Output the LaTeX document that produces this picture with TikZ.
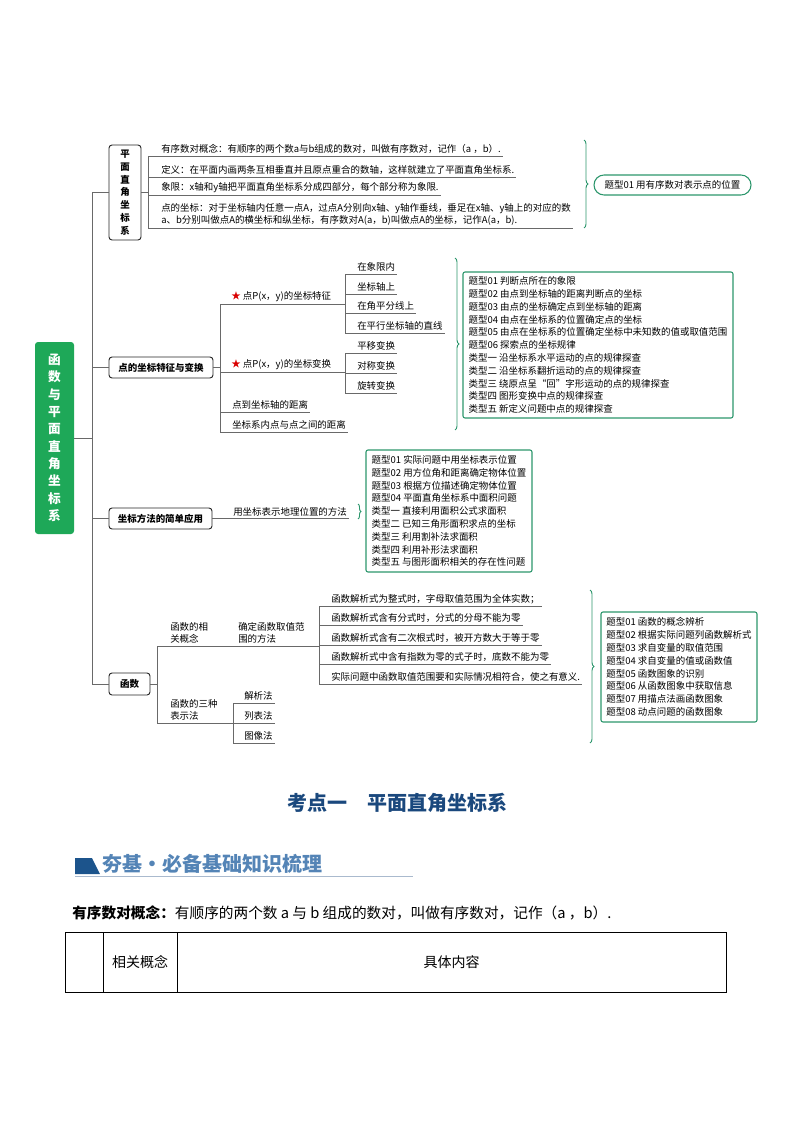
\documentclass[tikz,border=0pt]{standalone}
\usepackage{fontspec}
\setmainfont{Noto Sans CJK SC}
\usetikzlibrary{decorations.pathreplacing, calc}
\newlength\px \setlength\px{0.75pt}
\definecolor{rootgreen}{RGB}{30,168,88}
\definecolor{tealgreen}{RGB}{44,150,108}
\definecolor{linegray}{RGB}{105,105,105}
\definecolor{titleblue}{RGB}{26,72,125}
\definecolor{bannerblue}{RGB}{28,84,140}
\definecolor{bannertext}{RGB}{84,132,182}
\definecolor{bannerline}{RGB}{170,186,206}
\newcommand\mapfont{\fontsize{7.1pt}{9.6pt}\selectfont}
\tikzset{
    root/.style={fill=rootgreen, rounded corners=3\px, text=white, align=center, inner sep=0pt, font=\fontsize{9.5pt}{13pt}\selectfont\bfseries},
    branch/.style={draw=black!85, line width=0.7pt, rounded corners=3\px, fill=white, align=center, inner sep=0pt, font=\mapfont\bfseries},
    leaf/.style={anchor=south west, inner xsep=2\px, inner ysep=2\px, align=left, font=\mapfont},
    link/.style={draw=linegray, line width=0.6pt},
    result/.style={draw=tealgreen, line width=0.8pt, rounded corners=2\px, align=left, inner sep=2\px, font=\mapfont},
    pill/.style={draw=tealgreen, line width=0.8pt, rounded corners=10\px, inner sep=0pt, font=\mapfont},
    brace/.style={draw=tealgreen, line width=0.7pt, decorate, decoration={brace, amplitude=4\px}}
}

\begin{document}
\begin{tikzpicture}[x=0.75pt, y=-0.75pt]
    \useasboundingbox (0,0) rectangle (794,1123);
    \coordinate (trunk) at (92,0);

    % root and main branches
    \node [root, minimum width=39\px, minimum height=192\px] (root) at (54.5,438) {函\\数\\与\\平\\面\\直\\角\\坐\\标\\系};
    \node [branch, minimum width=32\px, minimum height=95\px] (plane) at (125,192.5) {平\\面\\直\\角\\坐\\标\\系};
    \node [branch, minimum width=104\px, minimum height=21\px] (pointbr) at (161,367.5) {点的坐标特征与变换};
    \node [branch, minimum width=103\px, minimum height=21\px] (coordbr) at (160.5,518.5) {坐标方法的简单应用};
    \node [branch, minimum width=41\px, minimum height=22\px] (funcbr) at (129.5,684) {函数};

    \draw [link] (plane.west -| trunk) -- (funcbr.west -| trunk);
    \draw [link] (root.east) -- (root.east -| trunk);
    \foreach \b in {plane, pointbr, coordbr, funcbr}
        \draw [link] (\b.west -| trunk) -- (\b.west);

    % 平面直角坐标系
    \coordinate (va) at (148,0);
    \node [leaf] (a1) at (159,156) {有序数对概念：有顺序的两个数a与b组成的数对，叫做有序数对，记作（a ，b）.};
    \node [leaf] (a2) at (159,177) {定义：在平面内画两条互相垂直并且原点重合的数轴，这样就建立了平面直角坐标系.};
    \node [leaf] (a3) at (159,195) {象限：x轴和y轴把平面直角坐标系分成四部分，每个部分称为象限.};
    \node [leaf] (a4) at (159,228) {点的坐标：对于坐标轴内任意一点A，过点A分别向x轴、y轴作垂线，垂足在x轴、y轴上的对应的数\\a、b分别叫做点A的横坐标和纵坐标，有序数对A(a，b)叫做点A的坐标，记作A(a，b).};
    \draw [link] (plane.east) -- (plane.east -| va);
    \draw [link] (a1.south west -| va) -- (a4.south west -| va);
    \foreach \n in {a1, a2, a3, a4}
        \draw [link] (\n.south west -| va) -- (\n.south east);
    \coordinate (ba1) at (584,140);
    \coordinate (ba2) at (584,228);
    \draw [brace] (ba1) -- (ba2);
    \node [pill, minimum width=157\px, minimum height=20\px] (ra) at (672.5,185) {题型01 用有序数对表示点的位置};

    % 点的坐标特征与变换
    \coordinate (vb) at (220,0);
    \coordinate (vbs) at (345,0);
    \node [leaf] (b1) at (229,304) {\textcolor{red!85!black}{★} 点P(x，y)的坐标特征};
    \node [leaf] (b2) at (229,372) {\textcolor{red!85!black}{★} 点P(x，y)的坐标变换};
    \node [leaf] (b3) at (230,412) {点到坐标轴的距离};
    \node [leaf] (b4) at (230,432) {坐标系内点与点之间的距离};
    \node [leaf] (b11) at (355,274) {在象限内};
    \node [leaf] (b12) at (355,294) {坐标轴上};
    \node [leaf] (b13) at (355,313) {在角平分线上};
    \node [leaf] (b14) at (355,333) {在平行坐标轴的直线};
    \node [leaf] (b21) at (355,353) {平移变换};
    \node [leaf] (b22) at (355,373) {对称变换};
    \node [leaf] (b23) at (355,393) {旋转变换};
    \draw [link] (pointbr.east) -- (pointbr.east -| vb);
    \draw [link] (b1.south west -| vb) -- (b4.south west -| vb);
    \draw [link] (b1.south west -| vb) -- (b1.south west -| vbs);
    \draw [link] (b2.south west -| vb) -- (b2.south west -| vbs);
    \draw [link] (b3.south west -| vb) -- (b3.south east);
    \draw [link] (b4.south west -| vb) -- (b4.south east);
    \draw [link] (b11.south west -| vbs) -- (b14.south west -| vbs);
    \draw [link] (b21.south west -| vbs) -- (b23.south west -| vbs);
    \foreach \n in {b11, b12, b13, b14, b21, b22, b23}
        \draw [link] (\n.south west -| vbs) -- (\n.south east);
    \coordinate (bb1) at (455,258);
    \coordinate (bb2) at (455,430);
    \draw [brace] (bb1) -- (bb2);
    \node [result, minimum width=270\px, minimum height=146\px] (rb) at (598,345) {题型01 判断点所在的象限\\题型02 由点到坐标轴的距离判断点的坐标\\题型03 由点的坐标确定点到坐标轴的距离\\题型04 由点在坐标系的位置确定点的坐标\\题型05 由点在坐标系的位置确定坐标中未知数的值或取值范围\\题型06 探索点的坐标规律\\类型一 沿坐标系水平运动的点的规律探查\\类型二 沿坐标系翻折运动的点的规律探查\\类型三 绕原点呈“回”字形运动的点的规律探查\\类型四 图形变换中点的规律探查\\类型五 新定义问题中点的规律探查};

    % 坐标方法的简单应用
    \node [leaf] (c1) at (231,519) {用坐标表示地理位置的方法};
    \draw [link] (coordbr.east) -- (coordbr.east -| c1.south east);
    \coordinate (bc1) at (358,504);
    \coordinate (bc2) at (358,519);
    \draw [brace, decoration={amplitude=3\px}] (bc1) -- (bc2);
    \node [result, minimum width=166\px, minimum height=122\px] (rc) at (449,511) {题型01 实际问题中用坐标表示位置\\题型02 用方位角和距离确定物体位置\\题型03 根据方位描述确定物体位置\\题型04 平面直角坐标系中面积问题\\类型一 直接利用面积公式求面积\\类型二 已知三角形面积求点的坐标\\类型三 利用割补法求面积\\类型四 利用补形法求面积\\类型五 与图形面积相关的存在性问题};

    % 函数
    \coordinate (vd) at (157,0);
    \coordinate (vds) at (319,0);
    \coordinate (vdt) at (233,0);
    \node [leaf] (d1) at (168,646) {函数的相\\关概念};
    \node [leaf] (d1c) at (236,646) {确定函数取值范\\围的方法};
    \node [leaf] (d2) at (168,723) {函数的三种\\表示法};
    \node [leaf] (d11) at (329,606) {函数解析式为整式时，字母取值范围为全体实数；};
    \node [leaf] (d12) at (329,625) {函数解析式含有分式时，分式的分母不能为零};
    \node [leaf] (d13) at (329,645) {函数解析式含有二次根式时，被开方数大于等于零};
    \node [leaf] (d14) at (329,664) {函数解析式中含有指数为零的式子时，底数不能为零};
    \node [leaf] (d15) at (329,684) {实际问题中函数取值范围要和实际情况相符合，使之有意义.};
    \node [leaf] (d21) at (242,703) {解析法};
    \node [leaf] (d22) at (242,723) {列表法};
    \node [leaf] (d23) at (242,743) {图像法};
    \draw [link] (funcbr.east) -- (funcbr.east -| vd);
    \draw [link] (d1.south west -| vd) -- (d2.south west -| vd);
    \draw [link] (d1.south west -| vd) -- (d1c.south west -| vds);
    \draw [link] (d2.south west -| vd) -- (d2.south west -| vdt);
    \draw [link] (d11.south west -| vds) -- (d15.south west -| vds);
    \draw [link] (d21.south west -| vdt) -- (d23.south west -| vdt);
    \foreach \n in {d11, d12, d13, d14, d15}
        \draw [link] (\n.south west -| vds) -- (\n.south east);
    \foreach \n in {d21, d22, d23}
        \draw [link] (\n.south west -| vdt) -- (\n.south east);
    \coordinate (bd1) at (590,590);
    \coordinate (bd2) at (590,743);
    \draw [brace] (bd1) -- (bd2);
    \node [result, minimum width=156\px, minimum height=110\px] (rd) at (679,667) {题型01 函数的概念辨析\\题型02 根据实际问题列函数解析式\\题型03 求自变量的取值范围\\题型04 求自变量的值或函数值\\题型05 函数图象的识别\\题型06 从函数图象中获取信息\\题型07 用描点法画函数图象\\题型08 动点问题的函数图象};

    % 考点一
    \node [font=\fontsize{15pt}{18pt}\selectfont\bfseries, text=titleblue] (title) at (397,803) {考点一\quad 平面直角坐标系};
    \fill [bannerblue] (75,858) -- (92,858) -- (100,874) -- (75,874) -- cycle;
    \node [anchor=west, inner sep=0pt, font=\fontsize{15pt}{18pt}\selectfont\bfseries, text=bannertext] (banner) at (102,864) {夯基·必备基础知识梳理};
    \draw [bannerline, line width=1.2pt] (75,876.5) -- (413,876.5);
    \node [anchor=west, inner sep=0pt, font=\fontsize{11pt}{13pt}\selectfont] (intro) at (72,913) {\textbf{有序数对概念：}有顺序的两个数 a 与 b 组成的数对，叫做有序数对，记作（a ，b）.};
    \draw [black, line width=0.6pt] (65,932) rectangle (726,992);
    \draw [black, line width=0.5pt] (103,932) -- (103,992) (177,932) -- (177,992);
    \node [font=\fontsize{10.5pt}{12pt}\selectfont] (head1) at (140,962) {相关概念};
    \node [font=\fontsize{10.5pt}{12pt}\selectfont] (head2) at (451.5,962) {具体内容};
\end{tikzpicture}
\end{document}
